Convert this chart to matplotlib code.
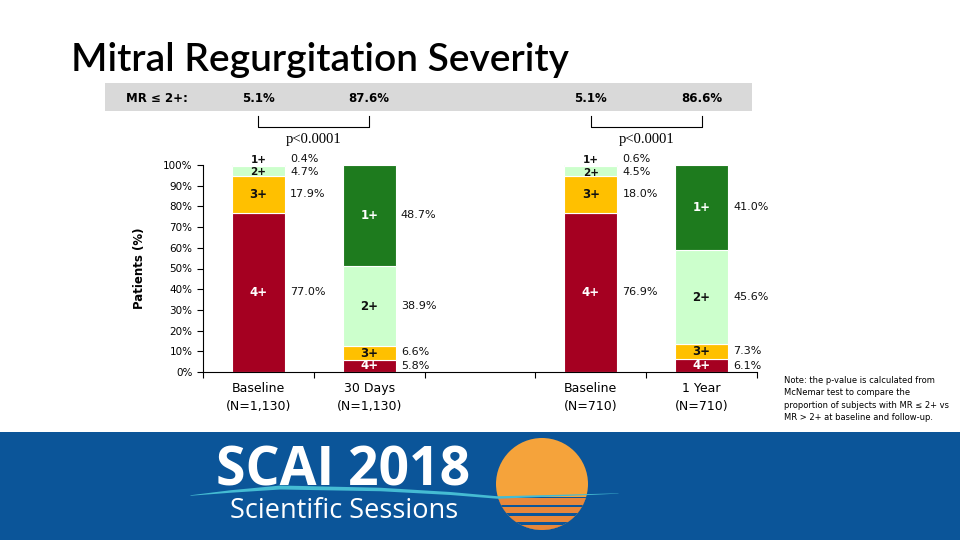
import numpy as np
import matplotlib.pyplot as plt
from matplotlib.patches import Rectangle, Circle

# ---------------- data ----------------
categories = ["Baseline\n(N=1,130)", "30 Days\n(N=1,130)", "Baseline\n(N=710)", "1 Year\n(N=710)"]
positions = [0, 1, 3, 4]
grades = ["4+", "3+", "2+", "1+"]
grade_4 = [77.0, 5.8, 76.9, 6.1]
grade_3 = [17.9, 6.6, 18.0, 7.3]
grade_2 = [4.7, 38.9, 4.5, 45.6]
grade_1 = [0.4, 48.7, 0.6, 41.0]
header_vals = ["5.1%", "87.6%", "5.1%", "86.6%"]
p_values = ["p<0.0001", "p<0.0001"]

colors = {"4+": "#A50021", "3+": "#FFC000", "2+": "#CCFFCC", "1+": "#1E7B1E"}
label_colors = {"4+": "white", "3+": "#111111", "2+": "#111111", "1+": "white"}

W, H = 960, 540
fig = plt.figure(figsize=(9.6, 5.4), dpi=100)
fig.patch.set_facecolor("white")

def fx(px):
    return px / W

def fy(py):
    return 1 - py / H

# ---------------- title ----------------
fig.text(fx(71), fy(60), "Mitral Regurgitation Severity", fontsize=28,
         family=["Lato", "DejaVu Sans"], fontweight="semibold", va="center", ha="left")

# header band
fig.patches.append(Rectangle((fx(105), fy(111)), fx(752) - fx(105), fy(83) - fy(111),
                             transform=fig.transFigure, facecolor="#D9D9D9", edgecolor="none"))
fig.text(fx(126), fy(98), "MR \u2264 2+:", fontsize=8.5, fontweight="bold", va="center")

# ---------------- main axes ----------------
ax = fig.add_axes([fx(203), fy(372), fx(757) - fx(203), fy(165) - fy(372)])
ax.set_xlim(-0.5, 4.5)
ax.set_ylim(0, 100)

series = {"4+": grade_4, "3+": grade_3, "2+": grade_2, "1+": grade_1}
bottom = np.zeros(len(positions))
width = 0.48
for g in grades:
    vals = np.array(series[g])
    ax.bar(positions, vals, width, bottom=bottom, color=colors[g],
           edgecolor="white", linewidth=0.8)
    for i, (x, v, b) in enumerate(zip(positions, vals, bottom)):
        fs = 8.5
        if v < 2:
            ly, vy, fs = 102.3, 103.0, 7.5
        elif v < 6 and b > 80:
            ly, vy, fs = b + v / 2 - 0.8, b + v / 2 - 0.6, 7.5
        else:
            ly = b + v / 2
            vy = ly + (0.6 if (g == "3+" and v < 10) else 0)
        ax.text(x, ly, g, ha="center", va="center", fontsize=fs, fontweight="bold",
                color=label_colors[g] if v > 4 else "#111111")
        ax.text(x + width / 2 + 0.045, vy, f"{v:.1f}%", ha="left", va="center",
                fontsize=8, color="#111111")
    bottom += vals

for sp in ["top", "right"]:
    ax.spines[sp].set_visible(False)
ax.set_yticks(np.arange(0, 101, 10))
ax.set_yticklabels([f"{t}%" for t in range(0, 101, 10)], fontsize=7.5)
ax.set_xticks(np.arange(-0.5, 4.6, 1.0))
ax.set_xticklabels([])
ax.tick_params(axis="both", direction="out", length=4, width=0.8)
for x, c in zip(positions, categories):
    ax.text(x, -5, c, ha="center", va="top", fontsize=9, linespacing=1.45,
            transform=ax.transData, clip_on=False)
ax.set_ylabel("Patients (%)", fontsize=8.5, fontweight="bold", labelpad=12)

# header values and brackets, aligned with bar centres
to_fig = fig.transFigure.inverted()
for x, t in zip(positions, header_vals):
    xf = to_fig.transform(ax.transData.transform((x, 0)))[0]
    fig.text(xf, fy(98), t, ha="center", va="center", fontsize=8.5, fontweight="bold")

for k, pv in enumerate(p_values):
    x0 = to_fig.transform(ax.transData.transform((positions[2 * k], 0)))[0]
    x1 = to_fig.transform(ax.transData.transform((positions[2 * k + 1], 0)))[0]
    fig.lines.append(plt.Line2D([x0, x0, x1, x1], [fy(116), fy(127), fy(127), fy(116)],
                                transform=fig.transFigure, color="black", linewidth=0.8))
    fig.text((x0 + x1) / 2, fy(139), pv, ha="center", va="center", fontsize=10.5,
             family="Liberation Serif")

fig.text(fx(784), fy(399),
         "Note: the p-value is calculated from\nMcNemar test to compare the\n"
         "proportion of subjects with MR \u2264 2+ vs\nMR > 2+ at baseline and follow-up.",
         fontsize=6, ha="left", va="center", linespacing=1.45)

# ---------------- bottom banner ----------------
blue = "#0B5599"
bx = fig.add_axes([0, 0, 1, 108 / H])
bx.set_xlim(0, W)
bx.set_ylim(0, 108)
bx.axis("off")
bx.add_patch(Rectangle((0, 0), W, 108, facecolor=blue, edgecolor="none"))

sun = Circle((542, 56), 46, facecolor="#F5A33B", edgecolor="none", zorder=2)
bx.add_patch(sun)
# reflection stripes in the lower part of the sun
for y0, h, c in [(0, 43, blue), (35, 7, "#E8873A"), (27, 6.5, "#E8873A"),
                 (18, 6.5, "#E8873A"), (9, 6.5, "#E8873A")]:
    r = Rectangle((480, y0), 130, h, facecolor=c, edgecolor="none", zorder=3)
    bx.add_patch(r)
    r.set_clip_path(sun)

# wave
wx = np.array([190, 230, 280, 380, 450, 497, 560, 618])
wy = np.array([45, 49, 53, 51, 47, 43, 45, 47])
wt = np.array([0.5, 2.5, 4.0, 3.5, 3.0, 2.5, 1.5, 0.3])
xs = np.linspace(190, 618, 300)
mid = np.interp(xs, wx, wy)
thick = np.interp(xs, wx, wt)
bx.fill_between(xs, mid - thick / 2, mid + thick / 2, color="#45BCD3", zorder=4, linewidth=0)

bx.text(216, 68, "SCAI 2018", fontsize=38.5, color="white", fontweight="bold",
        family="Open Sans", va="center", ha="left", zorder=3)
bx.text(230, 29, "Scientific Sessions", fontsize=19.5, color="white",
        family="Open Sans", va="center", ha="left", zorder=5)

fig.savefig("out.png", dpi=100)
